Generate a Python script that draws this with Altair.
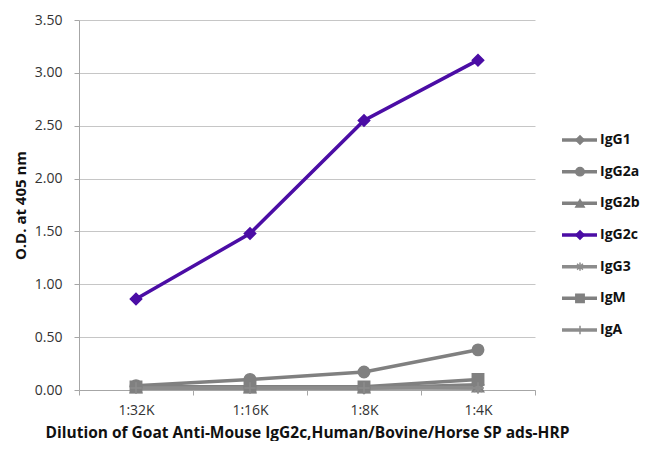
import altair as alt
import pandas as pd

dilutions = ["1:32K", "1:16K", "1:8K", "1:4K"]
series = ["IgG1", "IgG2a", "IgG2b", "IgG2c", "IgG3", "IgM", "IgA"]
values = {
    "IgG1":  [0.03, 0.03, 0.02, 0.05],
    "IgG2a": [0.04, 0.10, 0.17, 0.38],
    "IgG2b": [0.02, 0.02, 0.02, 0.03],
    "IgG2c": [0.86, 1.48, 2.55, 3.12],
    "IgG3":  [0.02, 0.02, 0.03, 0.02],
    "IgM":   [0.03, 0.03, 0.03, 0.10],
    "IgA":   [0.02, 0.02, 0.02, 0.02],
}
colors = ["#808080", "#808080", "#808080", "#4B0DA5", "#8c8c8c", "#808080", "#8c8c8c"]
asterisk = "M-1,0L1,0M0,-1L0,1M-0.7,-0.7L0.7,0.7M-0.7,0.7L0.7,-0.7"
plus = "M-1,0L1,0M0,-1L0,1"
shapes = ["diamond", "circle", "triangle-up", "diamond", asterisk, "square", plus]

rows = []
for s in series:
    for d, v in zip(dilutions, values[s]):
        rows.append({"series": s, "dilution": d, "od": v})
df = pd.DataFrame(rows)
leg_df = pd.DataFrame({"series": series})

FONT = "Open Sans"
color_scale = alt.Scale(domain=series, range=colors)
shape_scale = alt.Scale(domain=series, range=shapes)

x_enc = alt.X(
    "dilution:N", sort=dilutions, bandPosition=0.5,
    scale=alt.Scale(type="band", paddingInner=0, paddingOuter=0),
    axis=alt.Axis(title="Dilution of Goat Anti-Mouse IgG2c,Human/Bovine/Horse SP ads-HRP",
                  labelAngle=0, tickBand="extent", grid=False, domainColor="#a6a6a6",
                  tickColor="#a6a6a6", tickSize=5, labelFontSize=14, labelColor="#333333",
                  labelPadding=8, titleFontSize=15.5, titleFontWeight="bold",
                  titleColor="#111111", titlePadding=8, labelFont=FONT, titleFont=FONT),
)
y_enc = alt.Y(
    "od:Q", scale=alt.Scale(domain=[0, 3.5]),
    axis=alt.Axis(title="O.D. at 405 nm", values=[0, 0.5, 1, 1.5, 2, 2.5, 3, 3.5],
                  format=".2f", gridColor="#c6c6c6", domainColor="#a6a6a6",
                  tickColor="#a6a6a6", tickSize=5, labelFontSize=14, labelColor="#333333",
                  labelPadding=12, titleFontSize=15, titleFontWeight="bold",
                  titleColor="#111111", titlePadding=6, labelFont=FONT, titleFont=FONT),
)

lines = alt.Chart(df).mark_line(strokeWidth=3.5).encode(
    x=x_enc, y=y_enc,
    color=alt.Color("series:N", scale=color_scale, legend=None),
    detail="series:N",
)
points = alt.Chart(df).mark_point(filled=True, opacity=1, strokeWidth=1.5).encode(
    x=x_enc, y=y_enc,
    color=alt.Color("series:N", scale=color_scale, legend=None),
    stroke=alt.Stroke("series:N", scale=color_scale, legend=None),
    shape=alt.Shape("series:N", scale=shape_scale, legend=None),
    size=alt.value(130),
)
main = alt.layer(lines, points)

# legend drawn beside the plot (positions relative to plot origin)
y_leg = alt.Y("series:N", sort=series, axis=None,
              scale=alt.Scale(type="point", padding=0, range=[120, 310]))
leg_rule = alt.Chart(leg_df).mark_rule(strokeWidth=3.5).encode(
    x=alt.value(483), x2=alt.value(518), y=y_leg,
    color=alt.Color("series:N", scale=color_scale, legend=None),
)
leg_pt = alt.Chart(leg_df).mark_point(filled=True, opacity=1, strokeWidth=1.5).encode(
    x=alt.value(501), y=y_leg,
    color=alt.Color("series:N", scale=color_scale, legend=None),
    stroke=alt.Stroke("series:N", scale=color_scale, legend=None),
    shape=alt.Shape("series:N", scale=shape_scale, legend=None),
    size=alt.value(70),
)
leg_txt = alt.Chart(leg_df).mark_text(align="left", baseline="middle", font=FONT,
                                      fontSize=14, fontWeight="bold", color="#111111").encode(
    x=alt.value(521), y=y_leg, text="series:N",
)
legend = alt.layer(leg_rule, leg_pt, leg_txt)

chart = alt.layer(main, legend).resolve_scale(y="independent").properties(
    width=456, height=370,
    padding={"left": 5, "top": 5, "right": 0, "bottom": 0},
).configure_view(stroke=None)

chart.save("out.html", embed_options={"renderer": "svg", "actions": False})
